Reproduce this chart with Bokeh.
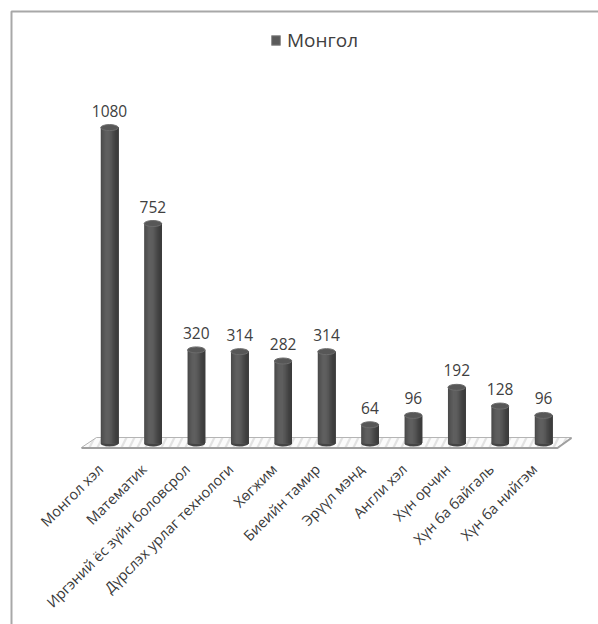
import numpy as np
from bokeh.plotting import figure
from bokeh.models import Range1d, Legend, LegendItem
from bokeh.core.properties import value
from bokeh.embed import file_html
from bokeh.resources import INLINE

# ---------------- data ----------------
categories = ["Монгол хэл", "Математик", "Иргэний ёс зүйн боловсрол",
              "Дүрслэх урлаг технологи", "Хөгжим", "Биеийн тамир",
              "Эрүүл мэнд", "Англи хэл", "Хүн орчин", "Хүн ба байгаль",
              "Хүн ба нийгэм"]
values = [1080, 752, 320, 314, 282, 314, 64, 96, 192, 128, 96]
series_name = "Монгол"

# ---------------- layout helpers ----------------
W, H = 598, 624
X0, DX = 109.0, 43.4      # pixel of first category centre, pixels per category
Y0, KY = 443.0, 0.2925    # pixel of floor, pixels per value unit


def dx(px):
    return (px - X0) / DX


def dy(py):
    return (Y0 - py) / KY


n = len(categories)
xs = np.arange(n, dtype=float)
vals = np.array(values, dtype=float)

p = figure(width=W, height=H, x_range=Range1d(dx(0), dx(W)),
           y_range=Range1d(dy(H), dy(0)), output_backend="svg",
           toolbar_location=None, min_border=0, x_axis_location=None,
           y_axis_location=None, background_fill_color="white",
           border_fill_color="white")
p.grid.visible = False
p.outline_line_color = None

# chart border (top and left edge visible)
p.line([dx(11), dx(11), dx(W + 5)], [dy(H + 5), dy(11), dy(11)],
       line_color="#a8a8a8", line_width=2)

# floor (3D slab)
fx = [dx(81), dx(96), dx(571), dx(557)]
fy = [dy(447), dy(437), dy(437), dy(447)]
p.patch(fx, fy, fill_color="#e2e2e2", line_color="#b4b4b4", line_width=1,
        hatch_pattern="/", hatch_color="white", hatch_scale=16,
        hatch_weight=5, hatch_alpha=0.85)
p.line([dx(81), dx(557), dx(571)], [dy(447.5), dy(447.5), dy(437.5)],
       line_color="#a0a0a0", line_width=2)

# cylinders
bw_px = 17.5
hw = bw_px / 2 / DX
# bottom rounding
p.ellipse(x=xs, y=np.zeros(n), width=bw_px, height=6, width_units="screen",
          height_units="screen", fill_color="#454545", line_color=None)

# body as overlapping vertical strips for a shaded look
nstrip = 14
edges = np.linspace(-1, 1, nstrip + 1)
mids = (edges[:-1] + edges[1:]) / 2
shade = 0.5 * (1 + np.cos((mids + 0.25) * np.pi / 1.25))
base_c, hi_c = 0x3c, 0x60
cols = ["#%02x%02x%02x" % ((int(base_c + (hi_c - base_c) * s),) * 3) for s in shade]
L, R, T, B, C = [], [], [], [], []
for i in range(n):
    for k in range(nstrip):
        L.append(xs[i] + edges[k] * hw)
        R.append(xs[i] + hw)
        T.append(vals[i])
        B.append(0.0)
        C.append(cols[k])
p.quad(left=L, right=R, top=T, bottom=B, fill_color=C, line_color=None)

# top caps
p.ellipse(x=xs, y=vals, width=bw_px, height=6, width_units="screen",
          height_units="screen", fill_color="#575757", line_color="#6c6c6c",
          line_width=1)

# value labels
p.text(x=xs, y=vals, text=[str(v) for v in values], text_align="center",
       text_baseline="middle", y_offset=-17, text_font=value("Open Sans"),
       text_font_size="15.5px", text_color="#404040")

# category labels
p.text(x=xs, y=np.full(n, dy(466)), text=categories, angle=np.pi / 4,
       text_align="right", text_baseline="middle", x_offset=-9,
       text_font=value("Open Sans"), text_font_size="14.5px",
       text_color="#3a3a3a")

# legend
leg_r = p.quad(left=[0], right=[0], top=[0], bottom=[0], fill_color="#5a5a5a",
               line_color="#909090", line_width=1)
legend = Legend(items=[LegendItem(label=series_name, renderers=[leg_r])],
                location=(270, H - 53), orientation="horizontal",
                glyph_width=11, glyph_height=12, label_standoff=6, padding=0,
                margin=0, border_line_alpha=0, background_fill_alpha=0,
                label_text_font="Open Sans", label_text_font_size="19px",
                label_text_color="#404040")
p.add_layout(legend, "center")

open("out.html", "w").write(file_html(p, INLINE))
